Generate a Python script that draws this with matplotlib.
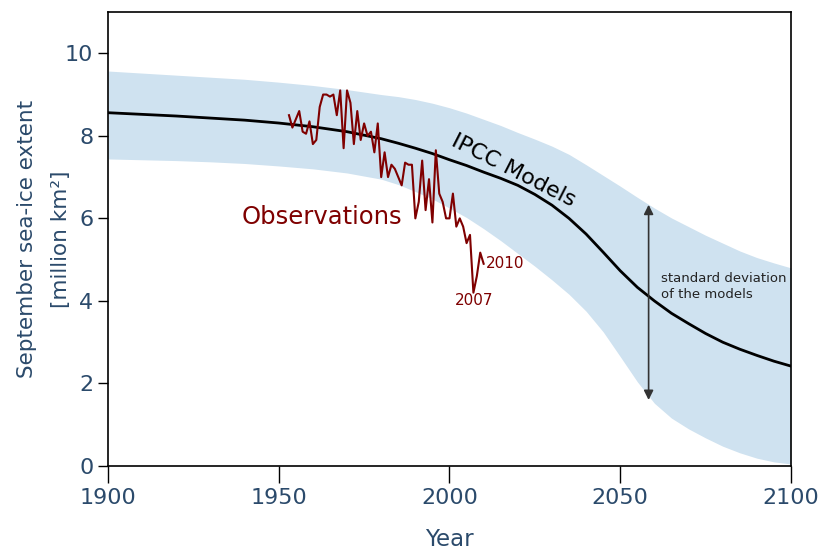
import matplotlib.pyplot as plt

# model ensemble
model_years = [1900, 1910, 1920, 1930, 1940, 1950, 1960, 1970, 1980, 1985,
               1990, 1995, 2000, 2005, 2010, 2015, 2020, 2025, 2030, 2035,
               2040, 2045, 2050, 2055, 2060, 2065, 2070, 2075, 2080, 2085,
               2090, 2095, 2100]
model_mean = [8.56, 8.52, 8.48, 8.43, 8.38, 8.31, 8.22, 8.10, 7.93, 7.82,
              7.70, 7.57, 7.42, 7.28, 7.12, 6.97, 6.80, 6.58, 6.32, 6.00,
              5.62, 5.18, 4.73, 4.33, 4.00, 3.70, 3.45, 3.21, 3.00, 2.83,
              2.68, 2.54, 2.42]
model_upper = [9.57, 9.52, 9.47, 9.42, 9.37, 9.30, 9.22, 9.12, 9.00, 8.95,
               8.88, 8.79, 8.68, 8.55, 8.40, 8.25, 8.08, 7.92, 7.75, 7.55,
               7.30, 7.04, 6.78, 6.51, 6.25, 6.01, 5.80, 5.59, 5.40, 5.21,
               5.05, 4.92, 4.80]
model_lower = [7.44, 7.42, 7.40, 7.37, 7.33, 7.27, 7.20, 7.10, 6.95, 6.82,
               6.65, 6.47, 6.25, 6.02, 5.75, 5.46, 5.15, 4.84, 4.51, 4.16,
               3.75, 3.25, 2.65, 2.04, 1.52, 1.16, 0.90, 0.68, 0.48, 0.32,
               0.19, 0.10, 0.05]

# observed September extent
obs_years = list(range(1953, 2011))
obs_extent = [8.50, 8.20, 8.40, 8.60, 8.10, 8.05, 8.35, 7.80, 7.90, 8.70,
              9.00, 9.00, 8.95, 9.00, 8.50, 9.10, 7.70, 9.10, 8.80, 7.80,
              8.60, 7.90, 8.30, 8.00, 8.10, 7.60, 8.30, 7.00, 7.60, 7.00,
              7.30, 7.20, 7.00, 6.80, 7.35, 7.30, 7.30, 6.00, 6.40, 7.40,
              6.20, 6.95, 5.90, 7.65, 6.60, 6.40, 6.00, 6.00, 6.60, 5.80,
              6.00, 5.80, 5.40, 5.60, 4.20, 4.60, 5.17, 4.90]

label_col = '#2b4a6b'
obs_col = '#7f0000'

fig, ax = plt.subplots(figsize=(8.21, 5.53), dpi=100)
fig.subplots_adjust(left=0.1315, right=0.9635, bottom=0.1573, top=0.9783)

ax.fill_between(model_years, model_lower, model_upper, color='#cfe2f0', lw=0)
ax.plot(model_years, model_mean, color='black', lw=2)
ax.plot(obs_years, obs_extent, color=obs_col, lw=1.5)

ax.text(1939, 6.04, 'Observations', color=obs_col, fontsize=17.5, va='center')
ax.text(2010.6, 4.9, '2010', color=obs_col, fontsize=11, va='center')
ax.text(2007.2, 4.0, '2007', color=obs_col, fontsize=11, va='center', ha='center')
ax.text(2018.6, 7.15, 'IPCC Models', color='black', fontsize=16, rotation=-27,
        ha='center', va='center', rotation_mode='anchor')
ax.text(2062, 4.35, 'standard deviation\nof the models', color='#222222',
        fontsize=9.5, va='center', linespacing=1.3)
ax.annotate('', xy=(2058.3, 6.33), xytext=(2058.3, 1.6),
            arrowprops=dict(arrowstyle='<|-|>', color='#333333', lw=1.2,
                            mutation_scale=14, shrinkA=0, shrinkB=0))

ax.set_xlim(1900, 2100)
ax.set_ylim(0, 11)
ax.set_xticks([1900, 1950, 2000, 2050, 2100])
ax.set_yticks([0, 2, 4, 6, 8, 10])
ax.tick_params(axis='x', direction='out', length=12, width=1, labelsize=16,
               labelcolor=label_col, pad=4)
ax.tick_params(axis='y', direction='out', length=7, width=1, labelsize=16,
               labelcolor=label_col)
for s in ax.spines.values():
    s.set_linewidth(1.2)

ax.set_xlabel('Year', fontsize=16.5, color=label_col, labelpad=14)
ax.set_ylabel('September sea-ice extent\n[million km²]', fontsize=15.5,
              color=label_col, labelpad=-4, linespacing=1.85)

plt.savefig('out.png', dpi=100)
